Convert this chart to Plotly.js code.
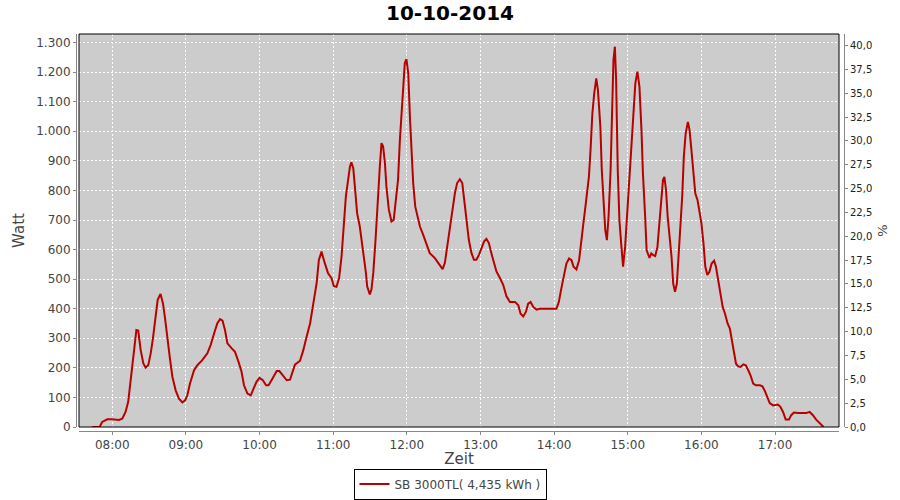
<!DOCTYPE html>
<html>
<head>
<meta charset="utf-8">
<script src="https://cdn.plot.ly/plotly-3.0.1.min.js"></script>
<style>html,body{margin:0;padding:0;background:#fff;}#chart{width:900px;height:500px;}</style>
</head>
<body>
<div id="chart"></div>
<script>
const chartTitle = "10-10-2014";
const seriesName = "SB 3000TL( 4,435 kWh )";
const day = "2014-10-10";
const times = [
"07:43:40","07:49:40","07:51:50","07:56:00","08:00:00","08:05:20","08:08:10","08:10:50","08:13:00","08:15:00",
"08:16:20","08:18:10","08:19:40","08:21:10","08:23:10","08:25:20","08:27:10","08:29:20","08:31:20","08:33:10",
"08:35:20","08:37:00","08:39:20","08:41:20","08:43:00","08:44:40","08:46:50","08:49:00","08:51:40","08:54:20",
"08:57:10","08:59:20","09:01:10","09:03:20","09:06:40","09:09:20","09:13:20","09:17:30","09:20:10","09:23:00",
"09:25:40","09:27:50","09:29:50","09:31:50","09:33:50","09:37:20","09:40:00","09:42:50","09:45:20","09:47:20",
"09:50:10","09:52:50","09:55:00","09:57:30","10:00:00","10:02:40","10:05:20","10:07:20","10:10:00","10:14:00",
"10:16:10","10:19:30","10:22:10","10:24:50","10:28:50","10:33:00","10:35:40","10:38:20","10:41:10","10:43:50",
"10:46:30","10:48:20","10:50:30","10:53:10","10:55:50","10:58:40","11:00:30","11:02:40","11:04:50","11:06:50",
"11:08:40","11:10:20","11:12:10","11:13:40","11:14:50","11:16:20","11:17:40","11:19:30","11:21:40","11:23:40",
"11:25:10","11:26:40","11:27:40","11:29:50","11:31:10","11:32:40","11:34:30","11:36:10","11:38:00","11:39:20",
"11:40:40","11:42:10","11:43:20","11:45:20","11:47:30","11:49:20","11:51:00","11:52:50","11:54:20","11:55:40",
"11:57:00","11:58:20","11:59:40","12:01:10","12:02:30","12:03:50","12:05:10","12:06:50","12:08:20","12:10:40",
"12:13:20","12:16:00","12:18:40","12:22:50","12:25:30","12:29:10","12:31:00","12:32:50","12:35:00","12:37:10",
"12:39:10","12:41:00","12:43:10","12:45:10","12:46:40","12:48:40","12:50:30","12:52:40","12:54:40","12:56:40",
"12:58:50","13:00:50","13:03:00","13:04:50","13:06:50","13:08:50","13:10:50","13:13:00","13:15:50","13:18:30",
"13:21:10","13:24:00","13:28:10","13:30:50","13:32:40","13:34:50","13:37:00","13:38:50","13:40:50","13:43:00",
"13:45:40","13:48:20","14:01:50","14:03:50","14:05:50","14:08:10","14:10:00","14:12:10","14:14:10","14:15:50",
"14:18:10","14:20:20","14:21:40","14:23:30","14:25:10","14:27:00","14:28:20","14:29:40","14:31:10","14:32:40",
"14:34:20","14:35:40","14:37:40","14:38:50","14:40:20","14:41:40","14:43:00","14:44:20","14:46:00","14:47:20",
"14:48:20","14:49:30","14:50:30","14:51:50","14:53:10","14:54:50","14:56:10","14:57:50","14:59:30","15:01:20",
"15:03:00","15:04:40","15:06:10","15:07:50","15:09:30","15:11:10","15:12:20","15:14:10","15:15:20","15:17:40",
"15:19:10","15:20:50","15:22:20","15:24:10","15:25:40","15:27:20","15:28:40","15:29:50","15:31:10","15:32:30",
"15:34:10","15:35:40","15:37:00","15:38:30","15:40:00","15:41:30","15:42:50","15:44:20","15:45:40","15:47:10",
"15:49:00","15:50:20","15:51:50","15:53:20","15:55:00","15:56:50","15:58:20","16:00:00","16:01:40","16:03:10",
"16:04:50","16:06:30","16:08:20","16:10:20","16:11:50","16:13:50","16:15:40","16:17:20","16:19:10","16:21:20",
"16:23:10","16:24:50","16:26:30","16:28:10","16:30:00","16:31:50","16:34:10","16:36:10","16:38:10","16:40:00",
"16:42:10","16:44:20","16:47:40","16:49:40","16:51:40","16:53:30","16:55:40","16:58:20","17:02:20","17:04:20",
"17:06:30","17:08:40","17:11:20","17:13:10","17:15:20","17:18:40","17:25:20","17:28:10","17:30:50","17:33:30",
"17:36:10","17:39:30"
];
const watt = [
0,0,17,26,26,24,28,51,85,158,
226,294,328,326,260,215,201,209,249,300,
373,430,450,418,368,305,237,170,124,96,
83,90,107,147,192,209,226,249,277,317,
351,365,360,328,283,266,254,221,187,141,
113,107,130,153,166,158,141,141,160,189,
189,170,158,160,211,224,260,305,350,418,
486,565,593,554,520,503,476,474,504,577,
690,780,836,881,895,876,814,723,678,622,
566,521,476,448,465,521,633,769,881,960,
949,892,814,735,695,701,769,836,971,1061,
1140,1230,1244,1196,1050,926,825,746,718,678,
650,616,588,571,555,534,555,611,678,746,
791,825,838,825,769,701,633,588,566,566,
583,605,628,636,622,588,560,526,504,481,
442,423,423,412,383,374,389,417,423,406,
397,400,400,423,468,519,553,570,564,542,
533,564,621,677,733,790,846,937,1061,1128,
1179,1140,1016,869,733,666,632,711,869,1061,
1241,1286,1174,869,700,609,542,609,722,858,
948,1049,1162,1202,1151,1004,858,711,598,572,
587,581,578,609,677,767,835,846,801,711,
643,575,485,457,485,575,666,779,914,993,
1032,1004,937,858,790,767,734,689,621,542,
514,525,553,562,542,497,451,406,384,350,
333,293,248,214,205,203,212,209,192,175,
147,141,141,138,122,104,81,73,76,68,
51,25,25,40,49,47,47,51,40,25,
14,0
];
const xRange = ["07:32:55", "17:52:05"];
const wattRange = [0, 1329];
const pctRange = [0, 41.22];

const x = times.map(t => day + " " + t);

const L = 76, R = 56, T = 34, B = 69;
const pw = 900 - L - R, ph = 500 - T - B;

const traces = [
  {
    x: x, y: watt, type: "scatter", mode: "lines",
    name: seriesName,
    line: {color: "#b80000", width: 2},
    hoverinfo: "skip"
  },
  {
    x: [x[0]], y: [null], type: "scatter", mode: "lines",
    yaxis: "y2", showlegend: false, hoverinfo: "skip"
  }
];

const grid = {showgrid: true, gridcolor: "#ffffff", griddash: "2px,2px", gridwidth: 1};

const layout = {
  width: 900, height: 500,
  margin: {l: L, r: R, t: T, b: B, pad: 0},
  paper_bgcolor: "#ffffff",
  plot_bgcolor: "#cccccc",
  separators: ",.",
  font: {family: "DejaVu Sans", color: "#444444"},
  title: {
    text: chartTitle,
    font: {family: "DejaVu Sans", size: 20, color: "#000000", weight: "bold"},
    x: 0.5, xref: "container", xanchor: "center",
    y: 1 - 13/500, yref: "container", yanchor: "middle"
  },
  xaxis: Object.assign({
    type: "date",
    domain: [3/pw, (839 - L)/pw],
    anchor: "free", position: 0,
    range: xRange.map(t => day + " " + t),
    tick0: day + " 08:00:00", dtick: 3600000,
    tickformat: "%H:%M",
    showline: true, linecolor: "#888888", linewidth: 1,
    ticks: "outside", ticklen: 3, tickcolor: "#888888",
    tickfont: {size: 12, color: "#444444"},
    zeroline: false,
    title: {text: "Zeit", font: {size: 15, color: "#444444"}, standoff: 4}
  }, grid),
  yaxis: Object.assign({
    domain: [4/ph, 1],
    anchor: "free", position: 0,
    range: wattRange,
    dtick: 100, tick0: 0,
    tickformat: ",.0f",
    showline: true, linecolor: "#888888", linewidth: 1,
    ticks: "outside", ticklen: 3, tickcolor: "#888888",
    tickfont: {size: 12, color: "#444444"},
    zeroline: false,
    title: {text: "Watt", font: {size: 15, color: "#444444"}, standoff: 6}
  }, grid),
  yaxis2: {
    overlaying: "y", side: "right",
    anchor: "free", position: 1,
    range: pctRange,
    dtick: 2.5, tick0: 0,
    tickformat: ".1f",
    showgrid: false, zeroline: false,
    showline: true, linecolor: "#888888", linewidth: 1,
    ticks: "outside", ticklen: 3, tickcolor: "#888888",
    tickfont: {size: 10, color: "#222222"},
    title: {text: "%", font: {size: 13, color: "#444444"}, standoff: 6}
  },
  showlegend: true,
  legend: {
    x: 0.5, xref: "container", xanchor: "center",
    y: 1 - 499.5/500, yref: "container", yanchor: "bottom",
    orientation: "h",
    bgcolor: "#ffffff", bordercolor: "#000000", borderwidth: 1,
    font: {size: 12, color: "#444444"},
    itemwidth: 30
  },
  shapes: [
    {type: "rect", xref: "x domain", yref: "y domain", x0: 0, x1: 1, y0: 0, y1: 1,
     line: {color: "#000000", width: 1}, fillcolor: "rgba(0,0,0,0)", layer: "above"}
  ]
};

Plotly.newPlot("chart", traces, layout, {staticPlot: true, displayModeBar: false});
</script>
</body>
</html>
